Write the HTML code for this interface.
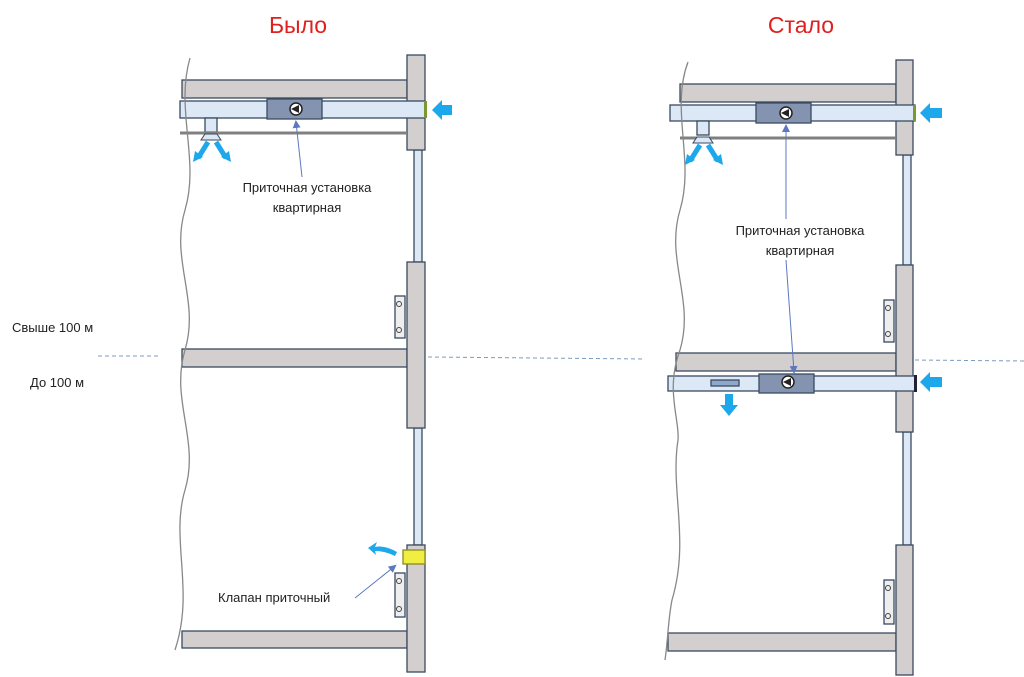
<!DOCTYPE html>
<html><head><meta charset="utf-8"><style>body{margin:0;background:#fff}svg{display:block}</style></head><body>
<svg width="1024" height="677" viewBox="0 0 1024 677" xmlns="http://www.w3.org/2000/svg" font-family="Liberation Sans, sans-serif">
<defs>
<marker id="ah" markerWidth="8" markerHeight="8" refX="6" refY="4" orient="auto"><path d="M0,0 L8,4 L0,8 z" fill="#5b78c0"/></marker>
</defs>
<rect width="1024" height="677" fill="#fff"/>
<text x="298" y="33" font-size="23" fill="#e02020" text-anchor="middle">Было</text>
<text x="801" y="33" font-size="23" fill="#e02020" text-anchor="middle">Стало</text>
<text x="12" y="332" font-size="13" fill="#222">Свыше 100 м</text>
<text x="30" y="387" font-size="13" fill="#222">До 100 м</text>
<line x1="98" y1="356" x2="158" y2="356" stroke="#7a9cc0" stroke-dasharray="4,3"/>
<line x1="428" y1="357" x2="645" y2="359" stroke="#7a9cc0" stroke-dasharray="4,3"/>
<line x1="915" y1="360" x2="1024" y2="361" stroke="#7a9cc0" stroke-dasharray="4,3"/>

<!-- LEFT -->
<g stroke="#3a4a60" stroke-width="1.3">
<rect x="182" y="80" width="225" height="18" fill="#d3cfcf"/>
<rect x="182" y="349" width="225" height="18" fill="#d3cfcf"/>
<rect x="182" y="631" width="225" height="17" fill="#d3cfcf"/>
<rect x="414" y="150" width="8" height="112" fill="#dce8f5"/>
<rect x="414" y="428" width="8" height="117" fill="#dce8f5"/>
<rect x="407" y="55" width="18" height="95" fill="#d3cfcf"/>
<rect x="407" y="262" width="18" height="166" fill="#d3cfcf"/>
<rect x="407" y="545" width="18" height="127" fill="#d3cfcf"/>
<rect x="180" y="101" width="245" height="17" fill="#dce8f5"/>
<rect x="267" y="99" width="55" height="20" fill="#8494b0"/>
<rect x="205" y="118" width="12" height="14" fill="#dce8f5"/>
<rect x="395" y="296" width="10" height="42" fill="#eee"/>
<rect x="395" y="573" width="10" height="44" fill="#eee"/>
<rect x="403" y="550" width="22" height="14" fill="#f0ee40" stroke="#8a8a20"/>
</g>
<line x1="180" y1="133" x2="407" y2="133" stroke="#808080" stroke-width="3"/>
<path d="M201,140 L221,140 L217,134 L205,134 Z" fill="#dce8f5" stroke="#3a4a60"/>
<rect x="424" y="101" width="3" height="17" fill="#7a9a30"/>
<circle cx="296" cy="109" r="6" fill="#fff" stroke="#222" stroke-width="1.5"/><path d="M299,105 L291,109 L299,113 Z" fill="#222"/>
<circle cx="399" cy="304" r="2.5" fill="none" stroke="#444"/><circle cx="399" cy="330" r="2.5" fill="none" stroke="#444"/>
<circle cx="399" cy="581" r="2.5" fill="none" stroke="#444"/><circle cx="399" cy="609" r="2.5" fill="none" stroke="#444"/>
<path d="M432,110 L442,100 L442,105 L452,105 L452,115 L442,115 L442,120 Z" fill="#1ea8ec"/>
<path d="M208,142 L198,158 M216,142 L226,158" stroke="#1ea8ec" stroke-width="5" fill="none"/>
<path d="M193,162 L195,151 L203,157 Z M231,162 L229,151 L221,157 Z" fill="#1ea8ec"/>
<path d="M397,552 Q385,545 375,547 L377,542 L368,548 L376,555 L375,551 Q385,551 395,556 Z" fill="#1ea8ec"/>
<path d="M190,58 C175,110 200,160 185,210 C170,260 200,300 185,350 C170,400 200,440 185,490 C170,540 195,590 175,650" fill="none" stroke="#888" stroke-width="1.3"/>
<line x1="302" y1="177" x2="296" y2="122" stroke="#5b78c0" marker-end="url(#ah)"/>
<text x="307" y="192" font-size="13" text-anchor="middle" fill="#222">Приточная установка</text>
<text x="307" y="212" font-size="13" text-anchor="middle" fill="#222">квартирная</text>
<line x1="355" y1="598" x2="395" y2="566" stroke="#5b78c0" marker-end="url(#ah)"/>
<text x="218" y="602" font-size="13" fill="#222">Клапан приточный</text>

<!-- RIGHT -->
<g stroke="#3a4a60" stroke-width="1.3">
<rect x="680" y="84" width="216" height="18" fill="#d3cfcf"/>
<rect x="676" y="353" width="220" height="18" fill="#d3cfcf"/>
<rect x="668" y="633" width="228" height="18" fill="#d3cfcf"/>
<rect x="903" y="155" width="8" height="110" fill="#dce8f5"/>
<rect x="903" y="432" width="8" height="113" fill="#dce8f5"/>
<rect x="896" y="60" width="17" height="95" fill="#d3cfcf"/>
<rect x="896" y="265" width="17" height="167" fill="#d3cfcf"/>
<rect x="896" y="545" width="17" height="130" fill="#d3cfcf"/>
<rect x="670" y="105" width="245" height="16" fill="#dce8f5"/>
<rect x="756" y="103" width="55" height="20" fill="#8494b0"/>
<rect x="697" y="121" width="12" height="14" fill="#dce8f5"/>
<rect x="668" y="376" width="248" height="15" fill="#dce8f5"/>
<rect x="759" y="374" width="55" height="19" fill="#8494b0"/>
<rect x="711" y="380" width="28" height="6" fill="#8ea8cc"/>
<rect x="884" y="300" width="10" height="42" fill="#eee"/>
<rect x="884" y="580" width="10" height="44" fill="#eee"/>
</g>
<line x1="680" y1="138" x2="896" y2="138" stroke="#808080" stroke-width="3"/>
<path d="M693,143 L713,143 L709,137 L697,137 Z" fill="#dce8f5" stroke="#3a4a60"/>
<rect x="913" y="105" width="3" height="16" fill="#7a9a30"/>
<rect x="914" y="375" width="3" height="17" fill="#223"/>
<circle cx="786" cy="113" r="6" fill="#fff" stroke="#222" stroke-width="1.5"/><path d="M789,109 L781,113 L789,117 Z" fill="#222"/>
<circle cx="788" cy="382" r="6" fill="#fff" stroke="#222" stroke-width="1.5"/><path d="M791,378 L783,382 L791,386 Z" fill="#222"/>
<circle cx="888" cy="308" r="2.5" fill="none" stroke="#444"/><circle cx="888" cy="334" r="2.5" fill="none" stroke="#444"/>
<circle cx="888" cy="588" r="2.5" fill="none" stroke="#444"/><circle cx="888" cy="616" r="2.5" fill="none" stroke="#444"/>
<path d="M920,113 L930,103 L930,108 L942,108 L942,118 L930,118 L930,123 Z" fill="#1ea8ec"/>
<path d="M920,382 L930,372 L930,377 L942,377 L942,387 L930,387 L930,392 Z" fill="#1ea8ec"/>
<path d="M725,394 L733,394 L733,405 L738,405 L729,416 L720,405 L725,405 Z" fill="#1ea8ec"/>
<path d="M700,145 L690,161 M708,145 L718,161" stroke="#1ea8ec" stroke-width="5" fill="none"/>
<path d="M685,165 L687,154 L695,160 Z M723,165 L721,154 L713,160 Z" fill="#1ea8ec"/>
<path d="M688,62 C670,110 695,160 680,210 C665,260 695,300 680,350 C665,390 680,420 678,440 C670,490 690,540 672,600 C668,620 668,640 665,660" fill="none" stroke="#888" stroke-width="1.3"/>
<line x1="786" y1="219" x2="786" y2="126" stroke="#5b78c0" marker-end="url(#ah)"/>
<line x1="786" y1="260" x2="794" y2="372" stroke="#5b78c0" marker-end="url(#ah)"/>
<text x="800" y="235" font-size="13" text-anchor="middle" fill="#222">Приточная установка</text>
<text x="800" y="255" font-size="13" text-anchor="middle" fill="#222">квартирная</text>
</svg>
</body></html>
